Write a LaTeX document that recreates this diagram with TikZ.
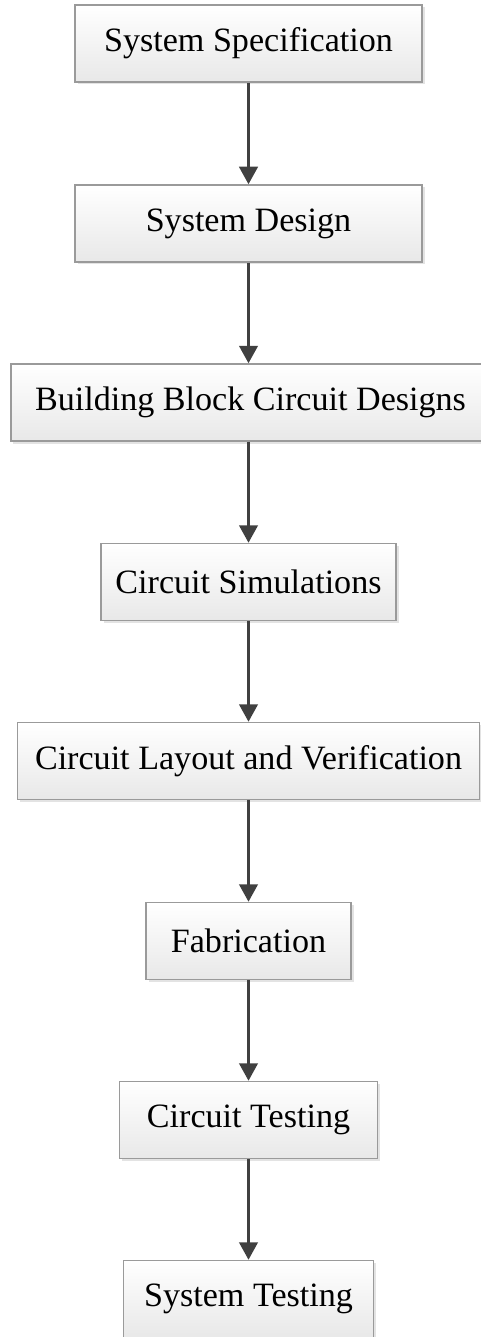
\documentclass[tikz,border=0pt]{standalone}
\usepackage{fontspec}
\setmainfont{Liberation Serif}
\usetikzlibrary{arrows.meta,shadows}
\definecolor{FlowEdge}{HTML}{9A9A9A}
\definecolor{FlowArrow}{HTML}{404040}

\begin{document}
\begin{tikzpicture}[line width=0.85pt,
  stagebox/.style={draw=FlowEdge,top color=white,bottom color=black!9,
    minimum height=1.54cm,inner sep=0pt,
    font=\fontsize{19.4}{23}\selectfont,
    drop shadow={opacity=0.22,shadow xshift=0.05cm,shadow yshift=-0.05cm}},
  flow/.style={draw=FlowArrow,line width=1.6pt,
    -{Triangle[length=3.5mm,width=3.7mm]}}]
  \useasboundingbox (0,0) rectangle (9.62,-26.74);

  \node[stagebox,minimum width=6.94cm] (spec) at (4.97,-0.87) {System Specification};
  \node[stagebox,minimum width=6.94cm] (design) at (4.97,-4.47) {System Design};
  \node[stagebox,minimum width=9.58cm] (blocks) at (5.01,-8.05) {Building Block Circuit Designs};
  \node[stagebox,minimum width=5.90cm] (sims) at (4.97,-11.64) {Circuit Simulations};
  \node[stagebox,minimum width=9.24cm] (layout) at (4.97,-15.22) {Circuit Layout and Verification};
  \node[stagebox,minimum width=4.10cm] (fab) at (4.97,-18.82) {Fabrication};
  \node[stagebox,minimum width=5.16cm] (ctest) at (4.97,-22.40) {Circuit Testing};
  \node[stagebox,minimum width=5.00cm] (stest) at (4.97,-25.98) {System Testing};

  \draw[flow] (spec) -- (design);
  \draw[flow] (design) -- (blocks.north -| design.south);
  \draw[flow] (blocks.south -| design.south) -- (sims);
  \draw[flow] (sims) -- (layout);
  \draw[flow] (layout) -- (fab);
  \draw[flow] (fab) -- (ctest);
  \draw[flow] (ctest) -- (stest);
\end{tikzpicture}
\end{document}
